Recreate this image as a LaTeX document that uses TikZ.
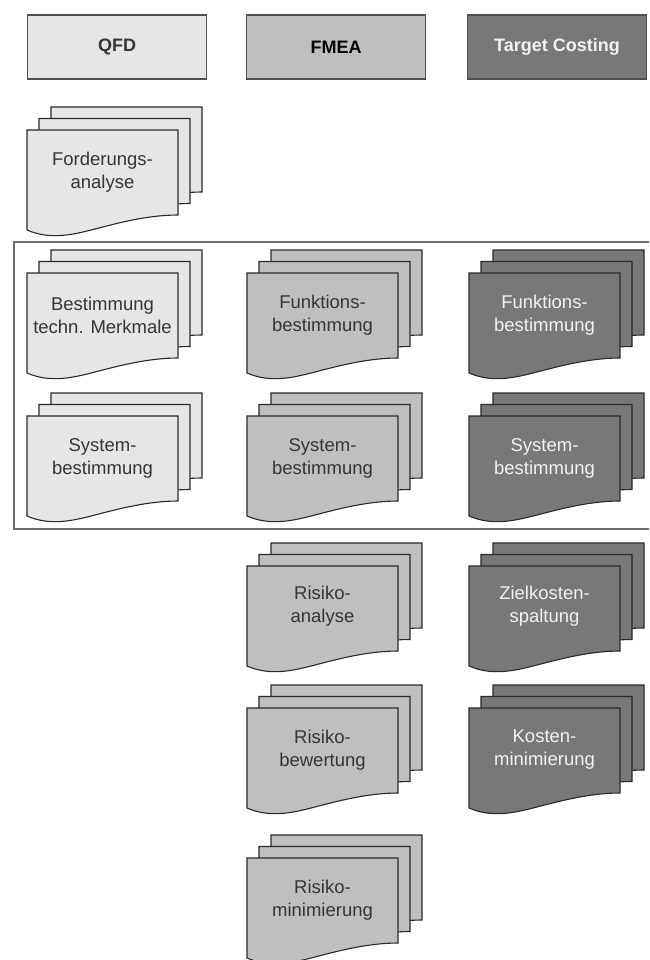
\documentclass[tikz,border=0pt]{standalone}
\usepackage{fontspec}
\setmainfont{Liberation Sans}
\definecolor{cqfd}{HTML}{E6E6E6}
\definecolor{cfmea}{HTML}{BFBFBF}
\definecolor{ctc}{HTML}{787878}
\definecolor{docline}{HTML}{2A2A2A}
\definecolor{hdrline}{HTML}{505050}
\definecolor{frameline}{HTML}{6E6E6E}
\definecolor{darktext}{HTML}{353535}
\definecolor{lighttext}{HTML}{F2F2F2}
\tikzset{
  hdr/.style={draw=hdrline, line width=1.4pt, minimum width=179pt, minimum height=64pt, inner sep=0pt,
    font=\fontsize{18}{22}\selectfont\bfseries},
  doctext/.style={align=center, inner sep=0pt, font=\fontsize{18.5}{23}\selectfont},
  pics/docstack/.style={code={
    \foreach \o in {2,1,0}{
      \path[draw=docline, line width=1.1pt, fill=#1, shift={(12*\o,-11.5*\o)}]
        (0,0) -- (151,0) -- (151,85)
        .. controls (121,85) and (91,93) .. (68,99)
        .. controls (45,105) and (23,110) .. (0,100) -- cycle;
    }
  }}
}
\begin{document}
\begin{tikzpicture}[x=1pt,y=-1pt]
\useasboundingbox (0,0) rectangle (649,960);
% frame around common steps
\draw[frameline, line width=1.4pt] (649,242) -- (14,242) -- (14,529) -- (649,529);
% headers
\node[hdr, fill=cqfd, text=darktext] (qfd) at (117,47) {QFD};
\node[hdr, fill=cfmea, text=black] (fmea) at (336,47) {FMEA};
\node[hdr, fill=ctc, text=lighttext] (tc) at (557,47) {Target Costing};
% QFD column
\pic at (27,130) {docstack=cqfd};
\node[doctext, text=darktext] (q1) at (102.5,172) {Forderungs-\\analyse};
\pic at (27,273) {docstack=cqfd};
\node[doctext, text=darktext] (q2) at (102.5,315) {Bestimmung\\techn. Merkmale};
\pic at (27,416) {docstack=cqfd};
\node[doctext, text=darktext] (q3) at (102.5,458) {System-\\bestimmung};
% FMEA column
\pic at (247,273) {docstack=cfmea};
\node[doctext, text=darktext] (f1) at (322.5,315) {Funktions-\\bestimmung};
\pic at (247,416) {docstack=cfmea};
\node[doctext, text=darktext] (f2) at (322.5,458) {System-\\bestimmung};
\pic at (247,566) {docstack=cfmea};
\node[doctext, text=darktext] (f3) at (322.5,606) {Risiko-\\analyse};
\pic at (247,708) {docstack=cfmea};
\node[doctext, text=darktext] (f4) at (322.5,750) {Risiko-\\bewertung};
\pic at (247,858) {docstack=cfmea};
\node[doctext, text=darktext] (f5) at (322.5,900) {Risiko-\\minimierung};
% Target Costing column
\pic at (469,273) {docstack=ctc};
\node[doctext, text=lighttext] (t1) at (544.5,315) {Funktions-\\bestimmung};
\pic at (469,416) {docstack=ctc};
\node[doctext, text=lighttext] (t2) at (544.5,458) {System-\\bestimmung};
\pic at (469,566) {docstack=ctc};
\node[doctext, text=lighttext] (t3) at (544.5,606) {Zielkosten-\\spaltung};
\pic at (469,708) {docstack=ctc};
\node[doctext, text=lighttext] (t4) at (544.5,750) {Kosten-\\minimierung};
\end{tikzpicture}
\end{document}
